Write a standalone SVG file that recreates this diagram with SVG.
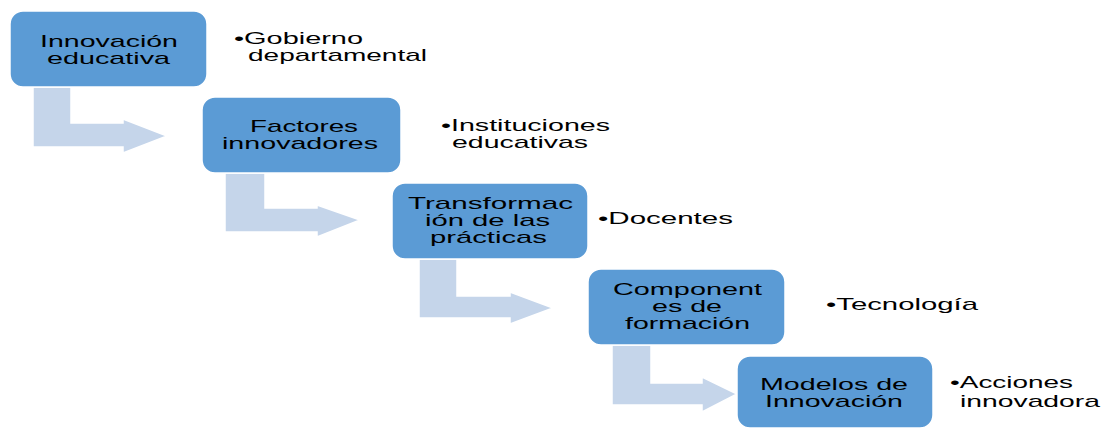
<svg xmlns="http://www.w3.org/2000/svg" width="1103" height="431" viewBox="0 0 1103 431">
<style>
.box{fill:#5B9BD5;stroke:#FFFFFF;stroke-width:1.5}
.arr{fill:#C5D5EA;stroke:#FFFFFF;stroke-width:1.5}
text{font-family:"Liberation Sans",Arial,sans-serif;font-size:17px;fill:#000000}
</style>
<rect width="1103" height="431" fill="#FFFFFF"/>
<g id="connectors">
<path class="arr" d="M33,87 L71,87 L71,123 L123,123 L123,119 L167,136 L123,153 L123,147 L33,147 Z"/>
<path class="arr" d="M225,173 L265,173 L265,208 L317,208 L317,205 L360,220 L317,237 L317,232 L225,232 Z"/>
<path class="arr" d="M419,259 L457,259 L457,296 L510,296 L510,292 L553,308 L510,324 L510,318 L419,318 Z"/>
<path class="arr" d="M612,345 L651,345 L651,383 L702,383 L702,377 L737,394 L702,412 L702,405 L612,405 Z"/>
</g>
<g id="n1">
<rect class="box" x="10" y="11" width="197" height="76" rx="13"/>
<text x="40" y="47" textLength="138" lengthAdjust="spacingAndGlyphs">Innovación</text>
<text x="47" y="63.5" textLength="123" lengthAdjust="spacingAndGlyphs">educativa</text>
</g>
<g id="n2">
<rect class="box" x="202" y="97" width="199" height="76" rx="13"/>
<text x="250" y="132" textLength="108" lengthAdjust="spacingAndGlyphs">Factores</text>
<text x="222" y="148.5" textLength="156" lengthAdjust="spacingAndGlyphs">innovadores</text>
</g>
<g id="n3">
<rect class="box" x="392" y="183" width="196" height="76" rx="13"/>
<text x="408" y="209" textLength="165" lengthAdjust="spacingAndGlyphs">Transformac</text>
<text x="425" y="226" textLength="125" lengthAdjust="spacingAndGlyphs">ión de las</text>
<text x="430" y="242.5" textLength="117" lengthAdjust="spacingAndGlyphs">prácticas</text>
</g>
<g id="n4">
<rect class="box" x="588" y="269" width="197" height="76" rx="13"/>
<text x="613" y="295" textLength="149" lengthAdjust="spacingAndGlyphs">Component</text>
<text x="652" y="312" textLength="70" lengthAdjust="spacingAndGlyphs">es de</text>
<text x="625" y="328.5" textLength="125" lengthAdjust="spacingAndGlyphs">formación</text>
</g>
<g id="n5">
<rect class="box" x="737" y="356" width="196" height="72" rx="13"/>
<text x="760" y="390" textLength="148" lengthAdjust="spacingAndGlyphs">Modelos de</text>
<text x="765" y="407" textLength="138" lengthAdjust="spacingAndGlyphs">Innovación</text>
</g>
<g id="labels">
<text x="234" y="44" textLength="129" lengthAdjust="spacingAndGlyphs">•Gobierno</text>
<text x="248" y="61" textLength="179" lengthAdjust="spacingAndGlyphs">departamental</text>
<text x="441" y="131" textLength="169" lengthAdjust="spacingAndGlyphs">•Instituciones</text>
<text x="452" y="147.5" textLength="136" lengthAdjust="spacingAndGlyphs">educativas</text>
<text x="598" y="224" textLength="135" lengthAdjust="spacingAndGlyphs">•Docentes</text>
<text x="826" y="310" textLength="152" lengthAdjust="spacingAndGlyphs">•Tecnología</text>
<text x="950" y="388" textLength="123" lengthAdjust="spacingAndGlyphs">•Acciones</text>
<text x="960" y="407" textLength="140" lengthAdjust="spacingAndGlyphs">innovadora</text>
</g>
</svg>
